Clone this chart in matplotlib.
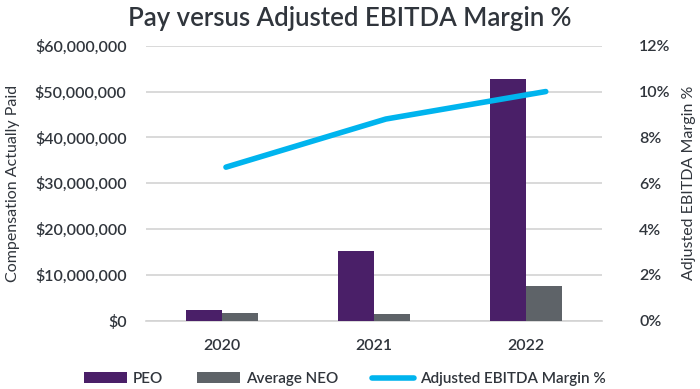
import matplotlib
matplotlib.use("Agg")
import matplotlib.pyplot as plt
import numpy as np
from matplotlib.ticker import FuncFormatter, MultipleLocator

years = ["2020", "2021", "2022"]
peo = [2.25e6, 15.2e6, 52.7e6]
avg_neo = [1.7e6, 1.45e6, 7.5e6]
ebitda_margin = [6.7, 8.8, 10.0]

PURPLE = "#4A1F68"
GRAY = "#5E6368"
BLUE = "#00B4EE"
TEXT = "#30353C"
GRID = "#D3D3D3"

plt.rcParams["font.family"] = ["Lato", "DejaVu Sans"]

fig = plt.figure(figsize=(7, 3.89), dpi=100)
pos = [0.2086, 0.1756, 0.651, 0.7069]
ax = fig.add_axes(pos)

x = np.arange(len(years))
w = 0.237
ax.bar(x - w / 2, peo, w, color=PURPLE, label="PEO", zorder=3)
ax.bar(x + w / 2, avg_neo, w, color=GRAY, label="Average NEO", zorder=3)

ax.set_xlim(-0.5, 2.5)
ax.set_ylim(0, 60e6)
ax.yaxis.set_major_locator(MultipleLocator(10e6))
ax.yaxis.set_major_formatter(FuncFormatter(lambda v, p: "$0" if v == 0 else f"${v:,.0f}"))
ax.grid(axis="y", color=GRID, linewidth=1.2, zorder=0)
ax.set_xticks(x)
ax.set_xticklabels(years)
for s in ["top", "right", "left"]:
    ax.spines[s].set_visible(False)
ax.spines["bottom"].set_color(GRID)
ax.spines["bottom"].set_linewidth(1.2)
ax.tick_params(axis="both", length=0, colors=TEXT, labelsize=11.5)
ax.tick_params(axis="y", pad=14)
ax.tick_params(axis="x", pad=13)
for lbl in ax.get_yticklabels() + ax.get_xticklabels():
    lbl.set_fontweight("semibold")
ax.set_ylabel("Compensation Actually Paid", color=TEXT, fontsize=11.5, labelpad=11)

# line on its own overlay axes (secondary category axis)
ax2 = fig.add_axes(pos, frameon=False)
ax2.plot(np.arange(len(years)), ebitda_margin, color=BLUE, linewidth=4,
         solid_capstyle="round", label="Adjusted EBITDA Margin %", zorder=4)
ax2.set_xlim(-0.5, 2.35)
ax2.set_ylim(0, 12)
ax2.set_xticks([])
ax2.yaxis.tick_right()
ax2.yaxis.set_label_position("right")
ax2.yaxis.set_major_locator(MultipleLocator(2))
ax2.yaxis.set_major_formatter(FuncFormatter(lambda v, p: f"{v:.0f}%"))
ax2.tick_params(axis="y", length=0, colors=TEXT, labelsize=11.5, pad=27)
for lbl in ax2.get_yticklabels():
    lbl.set_fontweight("semibold")
ax2.set_ylabel("Adjusted EBITDA Margin %", color=TEXT, fontsize=11.5, labelpad=8)

fig.suptitle("Pay versus Adjusted EBITDA Margin %", x=0.5, y=0.985, fontsize=18.5,
             color=TEXT, fontweight="semibold")

h1, l1 = ax.get_legend_handles_labels()
h2, l2 = ax2.get_legend_handles_labels()
leg = fig.legend(h1 + h2, l1 + l2, loc="center", bbox_to_anchor=(0.493, 1 - 379 / 389),
                 ncol=3, frameon=False, fontsize=11, handlelength=2.8,
                 handleheight=0.72, columnspacing=2.2, handletextpad=0.4,
                 borderpad=0)
for t in leg.get_texts():
    t.set_color(TEXT)
    t.set_fontweight("semibold")

fig.savefig("out.png", dpi=100)
